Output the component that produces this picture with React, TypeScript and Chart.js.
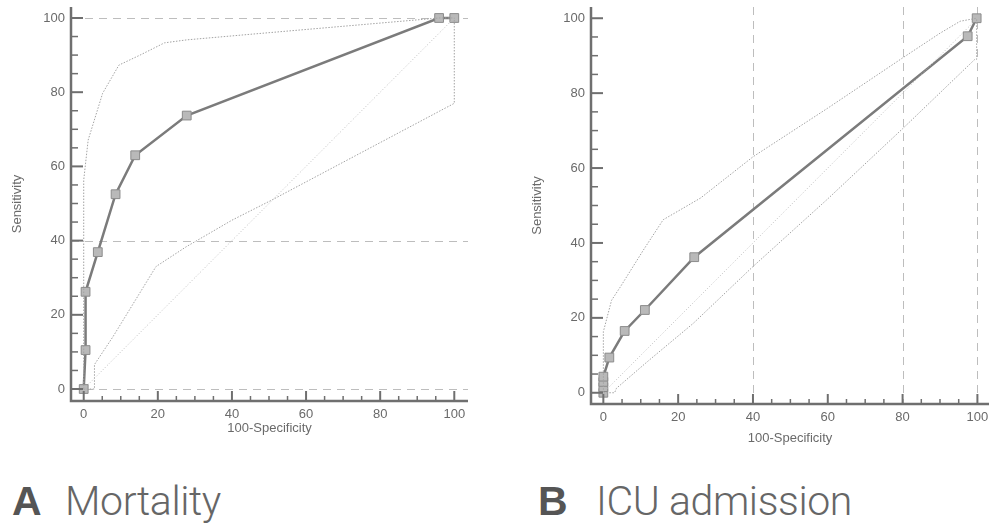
import React, { useEffect, useRef } from "react";
import { Chart, registerables } from "chart.js";

Chart.register(...registerables);

// ---------- data ----------
const tickValues = [0, 20, 40, 60, 80, 100];
const minorTickValues = [5, 10, 15, 25, 30, 35, 45, 50, 55, 65, 70, 75, 85, 90, 95];

const diagonalX = [0, 100];
const diagonalY = [0, 100];

// A: Mortality
const mortalityRocX = [0, 0.5, 0.5, 3.8, 8.6, 13.9, 27.8, 95.9, 100];
const mortalityRocY = [0, 10.5, 26.2, 36.9, 52.5, 63.0, 73.7, 100, 100];
const mortalityUpperX = [0, 0, 1.2, 5.1, 9.5, 15.2, 21.8, 27.8, 44.9, 95.9, 100];
const mortalityUpperY = [0, 56.3, 67.1, 79.7, 87.3, 90.0, 93.3, 94.1, 95.6, 100, 100];
const mortalityLowerX = [0, 2.9, 2.9, 7.9, 19.5, 27.6, 40, 50.7, 100, 100];
const mortalityLowerY = [0, 0, 6.6, 14.1, 33.0, 38.3, 45.5, 50.9, 77, 100];
const mortalityGridY = [0, 40, 100];

// B: ICU admission
const icuRocX = [0, 0, 0, 0, 1.6, 5.7, 11.1, 24.3, 97.4, 99.8];
const icuRocY = [0, 1.5, 2.9, 4.3, 9.4, 16.5, 22.1, 36.2, 95.2, 100];
const icuUpperX = [0, 0, 2.2, 4.5, 10.7, 16.0, 26.0, 40, 60, 80, 90, 95.4, 99.8];
const icuUpperY = [0, 16.3, 24.7, 28.2, 38.1, 46.2, 52.0, 63.0, 76.0, 89.4, 96.0, 99.2, 100];
const icuLowerX = [0, 3.0, 3.5, 12, 24, 40, 59.7, 80, 99.3, 99.8, 99.8];
const icuLowerY = [0, 0, 1.2, 8.5, 18.5, 33.7, 51.5, 70.5, 89, 89, 100];
const icuGridX = [40, 80, 100];

const titleA = "A";
const titleAText = "Mortality";
const titleB = "B";
const titleBText = "ICU admission";
const xAxisTitle = "100-Specificity";
const yAxisTitle = "Sensitivity";

// ---------- helpers ----------
const zip = (xs: number[], ys: number[]) => xs.map((x, i) => ({ x, y: ys[i] }));

const FONT = '"Liberation Sans", Arial, Helvetica, sans-serif';

const rocAxesPlugin = {
  id: "rocAxes",
  beforeDatasetsDraw(chart: any, _args: any, opts: any) {
    const { ctx, chartArea } = chart;
    const xs = chart.scales.x;
    const ys = chart.scales.y;
    ctx.save();
    ctx.strokeStyle = "#bdbdbd";
    ctx.lineWidth = 1;
    ctx.setLineDash([8, 6]);
    for (const v of opts.gridY || []) {
      const py = Math.round(ys.getPixelForValue(v)) + 0.5;
      ctx.beginPath();
      ctx.moveTo(chartArea.left, py);
      ctx.lineTo(chartArea.right, py);
      ctx.stroke();
    }
    for (const v of opts.gridX || []) {
      const px = Math.round(xs.getPixelForValue(v)) + 0.5;
      ctx.beginPath();
      ctx.moveTo(px, chartArea.top);
      ctx.lineTo(px, chartArea.bottom);
      ctx.stroke();
    }
    ctx.restore();
  },
  afterDatasetsDraw(chart: any, _args: any, opts: any) {
    const { ctx, chartArea } = chart;
    const xs = chart.scales.x;
    const ys = chart.scales.y;
    const { left, right, top, bottom } = chartArea;
    ctx.save();
    ctx.setLineDash([]);
    ctx.strokeStyle = "#6f6f6f";
    ctx.lineWidth = 2.5;
    ctx.beginPath();
    ctx.moveTo(left, top);
    ctx.lineTo(left, bottom);
    ctx.lineTo(right, bottom);
    ctx.stroke();
    ctx.lineWidth = 2;
    for (const v of tickValues) {
      const px = xs.getPixelForValue(v);
      ctx.beginPath();
      ctx.moveTo(px, bottom);
      ctx.lineTo(px, bottom - 10);
      ctx.stroke();
      const py = ys.getPixelForValue(v);
      ctx.beginPath();
      ctx.moveTo(left, py);
      ctx.lineTo(left + 12, py);
      ctx.stroke();
    }
    ctx.lineWidth = 1.5;
    for (const v of minorTickValues) {
      const px = xs.getPixelForValue(v);
      ctx.beginPath();
      ctx.moveTo(px, bottom);
      ctx.lineTo(px, bottom - 5);
      ctx.stroke();
      const py = ys.getPixelForValue(v);
      ctx.beginPath();
      ctx.moveTo(left, py);
      ctx.lineTo(left + 7, py);
      ctx.stroke();
    }
    ctx.fillStyle = "#6a6a6a";
    ctx.font = `13px ${FONT}`;
    ctx.textAlign = "center";
    ctx.textBaseline = "middle";
    ctx.fillText(xAxisTitle, (left + right) / 2, bottom + (opts.xTitleOffset || 28));
    ctx.translate(left - 54, (top + bottom) / 2);
    ctx.rotate(-Math.PI / 2);
    ctx.fillText(yAxisTitle, 0, 0);
    ctx.restore();
  },
};

interface RocProps {
  width: number;
  height: number;
  area: { left: number; right: number; top: number; bottom: number };
  xRange: [number, number];
  yRange: [number, number];
  roc: { x: number; y: number }[];
  upper: { x: number; y: number }[];
  lower: { x: number; y: number }[];
  gridX: number[];
  gridY: number[];
  xTitleOffset: number;
}

const zeroPadding = (s: any) => {
  s.paddingTop = 0;
  s.paddingBottom = 0;
  s.paddingLeft = 0;
  s.paddingRight = 0;
};

function RocChart(p: RocProps) {
  const ref = useRef<HTMLCanvasElement | null>(null);
  useEffect(() => {
    if (!ref.current) return;
    const tickFont = { family: FONT, size: 13 };
    const chart = new Chart(ref.current, {
      type: "line",
      data: {
        datasets: [
          {
            data: zip(diagonalX, diagonalY),
            borderColor: "#bdbdbd",
            borderWidth: 1,
            borderDash: [1, 2],
            pointRadius: 0,
            fill: false,
          },
          {
            data: p.lower,
            borderColor: "#a3a3a3",
            borderWidth: 1,
            borderDash: [1.5, 1.5],
            pointRadius: 0,
            fill: false,
          },
          {
            data: p.upper,
            borderColor: "#a3a3a3",
            borderWidth: 1,
            borderDash: [1.5, 1.5],
            pointRadius: 0,
            fill: false,
          },
          {
            data: p.roc,
            borderColor: "#7b7b7b",
            borderWidth: 2.5,
            pointStyle: "rect",
            pointRadius: 6.2,
            pointBackgroundColor: "#b9b9b9",
            pointBorderColor: "#8c8c8c",
            pointBorderWidth: 1,
            fill: false,
          },
        ],
      },
      options: {
        responsive: false,
        animation: false,
        events: [],
        layout: {
          autoPadding: false,
          padding: { left: 0, top: p.area.top, right: p.width - p.area.right, bottom: 0 },
        },
        plugins: {
          legend: { display: false },
          tooltip: { enabled: false },
          rocAxes: { gridX: p.gridX, gridY: p.gridY, xTitleOffset: p.xTitleOffset },
        } as any,
        scales: {
          x: {
            type: "linear",
            min: p.xRange[0],
            max: p.xRange[1],
            grid: { display: false, drawTicks: false },
            border: { display: false },
            ticks: { color: "#6a6a6a", font: tickFont, padding: 6, maxRotation: 0, autoSkip: false },
            afterBuildTicks: (s: any) => {
              s.ticks = tickValues.map((v) => ({ value: v }));
            },
            afterFit: (s: any) => {
              s.height = p.height - p.area.bottom;
              zeroPadding(s);
            },
          },
          y: {
            type: "linear",
            min: p.yRange[0],
            max: p.yRange[1],
            grid: { display: false, drawTicks: false },
            border: { display: false },
            ticks: { color: "#6a6a6a", font: tickFont, padding: 6, autoSkip: false },
            afterBuildTicks: (s: any) => {
              s.ticks = tickValues.map((v) => ({ value: v }));
            },
            afterFit: (s: any) => {
              s.width = p.area.left;
              zeroPadding(s);
            },
          },
        },
      } as any,
      plugins: [rocAxesPlugin],
    });
    return () => chart.destroy();
  }, []);
  return (
    <canvas
      ref={ref}
      width={p.width}
      height={p.height}
      style={{ width: p.width, height: p.height, display: "block" }}
    />
  );
}

const labelBase: React.CSSProperties = {
  position: "absolute",
  top: 481,
  fontSize: 41,
  lineHeight: "41px",
  whiteSpace: "nowrap",
};

export default function App() {
  return (
    <div
      style={{
        position: "absolute",
        left: 0,
        top: 0,
        width: 989,
        height: 523,
        background: "#ffffff",
        overflow: "hidden",
      }}
    >
      <div style={{ position: "absolute", left: 0, top: 0 }}>
        <RocChart
          width={480}
          height={450}
          area={{ left: 71, right: 468, top: 7, bottom: 401 }}
          xRange={[-3.43, 103.7]}
          yRange={[-3.23, 102.96]}
          roc={zip(mortalityRocX, mortalityRocY)}
          upper={zip(mortalityUpperX, mortalityUpperY)}
          lower={zip(mortalityLowerX, mortalityLowerY)}
          gridX={[]}
          gridY={mortalityGridY}
          xTitleOffset={27}
        />
      </div>
      <div style={{ position: "absolute", left: 500, top: 0 }}>
        <RocChart
          width={489}
          height={450}
          area={{ left: 91, right: 489, top: 7, bottom: 404 }}
          xRange={[-3.3, 103.1]}
          yRange={[-3.0, 103.0]}
          roc={zip(icuRocX, icuRocY)}
          upper={zip(icuUpperX, icuUpperY)}
          lower={zip(icuLowerX, icuLowerY)}
          gridX={icuGridX}
          gridY={[]}
          xTitleOffset={34}
        />
      </div>
      <span
        style={{
          ...labelBase,
          left: 12,
          fontFamily: FONT,
          fontWeight: 700,
          color: "#555555",
        }}
      >
        {titleA}
      </span>
      <span
        style={{
          ...labelBase,
          left: 65,
          fontFamily: "Roboto, " + FONT,
          fontWeight: 300,
          letterSpacing: "-0.4px",
          color: "#666666",
        }}
      >
        {titleAText}
      </span>
      <span
        style={{
          ...labelBase,
          left: 538,
          fontFamily: FONT,
          fontWeight: 700,
          color: "#555555",
        }}
      >
        {titleB}
      </span>
      <span
        style={{
          ...labelBase,
          left: 596,
          fontFamily: "Roboto, " + FONT,
          fontWeight: 300,
          letterSpacing: "-0.4px",
          color: "#666666",
        }}
      >
        {titleBText}
      </span>
    </div>
  );
}
